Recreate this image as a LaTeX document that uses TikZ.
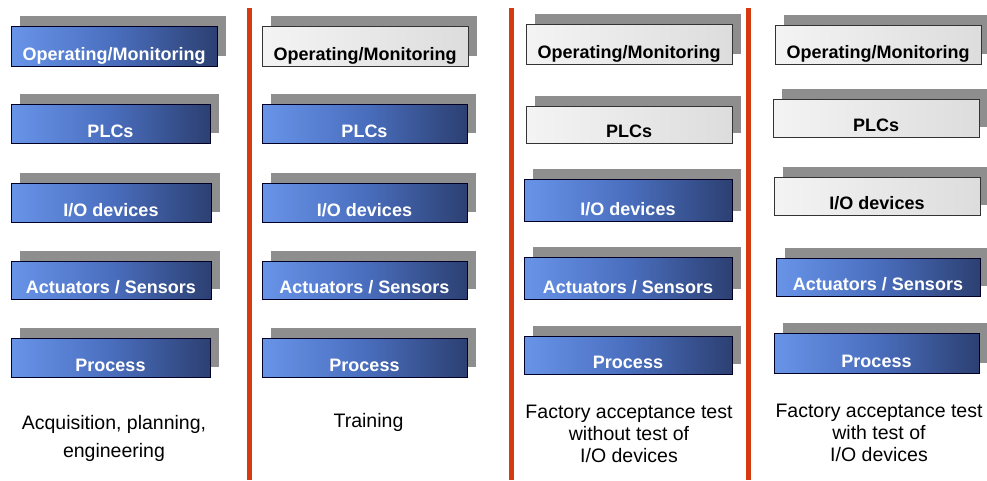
\documentclass[tikz,border=0pt]{standalone}
\usepackage{fontspec}
\setmainfont{Liberation Sans}
\definecolor{bL}{RGB}{104,148,232}
\definecolor{bM}{RGB}{74,110,190}
\definecolor{bD}{RGB}{44,64,114}
\definecolor{redl}{RGB}{214,58,18}
\definecolor{shad}{RGB}{142,142,142}
\pgfdeclarehorizontalshading{blueshade}{100bp}{color(0bp)=(bL); color(25bp)=(bL); color(50bp)=(bM); color(75bp)=(bD); color(100bp)=(bD)}
\tikzset{
  bluebox/.style={shade, shading=blueshade, draw=black!85!blue, line width=0.9pt},
  greybox/.style={left color=gray!9, right color=gray!27, draw=black!80, line width=0.9pt},
  shadowbox/.style={fill=shad},
  wtext/.style={font=\fontsize{18}{20}\selectfont\bfseries, text=white, anchor=base, inner sep=0pt},
  ktext/.style={font=\fontsize{18}{20}\selectfont\bfseries, text=black, anchor=base, inner sep=0pt},
  caption/.style={font=\fontsize{19.5}{22}\selectfont, text=black, anchor=base, inner sep=0pt},
  redline/.style={draw=redl, line width=5pt},
}
\newcommand{\layerbox}[8]{%
  \fill[shadowbox] (#4+9,#5-10) rectangle (#6+9,#7-10);
  \path[#1] (#4,#5) rectangle (#6,#7);
  \node[#2] (#3) at ({(#4+#6)/2},#7-5.5) {#8};
}
\begin{document}
\begin{tikzpicture}[x=1pt,y=-1pt]
\useasboundingbox[fill=white] (0,0) rectangle (987,480);
% column 1
\layerbox{bluebox}{wtext}{a1}{11}{26}{217}{66}{Operating/Monitoring}
\layerbox{bluebox}{wtext}{a2}{11}{104}{210}{143}{PLCs}
\layerbox{bluebox}{wtext}{a3}{11}{183}{211}{222}{I/O devices}
\layerbox{bluebox}{wtext}{a4}{11}{261}{211}{299}{Actuators / Sensors}
\layerbox{bluebox}{wtext}{a5}{11}{338}{210}{377}{Process}
\node[caption] (ac1) at (114,429) {Acquisition, planning,};
\node[caption] (ac2) at (114,457) {engineering};
% red line 1
\draw[redline] (249,8) -- (249,480);
% column 2
\layerbox{greybox}{ktext}{b1}{262}{26}{468}{66}{Operating/Monitoring}
\layerbox{bluebox}{wtext}{b2}{262}{104}{467}{143}{PLCs}
\layerbox{bluebox}{wtext}{b3}{262}{183}{467}{222}{I/O devices}
\layerbox{bluebox}{wtext}{b4}{262}{261}{467}{299}{Actuators / Sensors}
\layerbox{bluebox}{wtext}{b5}{262}{338}{467}{377}{Process}
\node[caption] (bc1) at (368.5,427) {Training};
% red line 2
\draw[redline] (511,8) -- (511,480);
% column 3
\layerbox{greybox}{ktext}{c1}{526}{24}{732}{64}{Operating/Monitoring}
\layerbox{greybox}{ktext}{c2}{526}{106}{732}{143}{PLCs}
\layerbox{bluebox}{wtext}{c3}{524}{179}{732}{221}{I/O devices}
\layerbox{bluebox}{wtext}{c4}{524}{257}{732}{299}{Actuators / Sensors}
\layerbox{bluebox}{wtext}{c5}{524}{336}{732}{374}{Process}
\node[caption] (cc1) at (629,418) {Factory acceptance test};
\node[caption] (cc2) at (629,440) {without test of};
\node[caption] (cc3) at (629,462) {I/O devices};
% red line 3
\draw[redline] (748,8) -- (748,480);
% column 4
\layerbox{greybox}{ktext}{d1}{775}{25}{981}{64}{Operating/Monitoring}
\layerbox{greybox}{ktext}{d2}{773}{99}{979}{137}{PLCs}
\layerbox{greybox}{ktext}{d3}{774}{177}{980}{215}{I/O devices}
\layerbox{bluebox}{wtext}{d4}{776}{258}{980}{296}{Actuators / Sensors}
\layerbox{bluebox}{wtext}{d5}{774}{333}{979}{373}{Process}
\node[caption] (dc1) at (879,417) {Factory acceptance test};
\node[caption] (dc2) at (879,439) {with test of};
\node[caption] (dc3) at (879,461) {I/O devices};
\end{tikzpicture}
\end{document}
